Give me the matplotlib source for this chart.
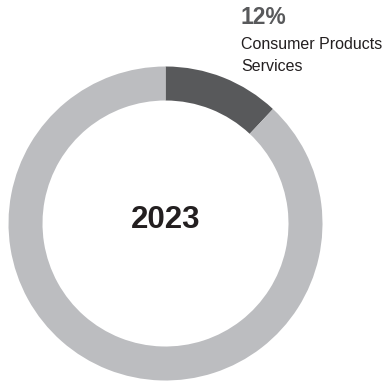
import matplotlib
matplotlib.use('Agg')
import matplotlib.pyplot as plt

# data
segments = ['Consumer Products Services', 'Other']
shares = [12, 88]
seg_colors = ['#58595b', '#bcbdc0']
year_label = '2023'
pct_label = '12%'
name_lines = ['Consumer Products', 'Services']

plt.rcParams['font.family'] = ['Liberation Sans', 'DejaVu Sans']

W, H = 385, 383
fig = plt.figure(figsize=(W / 100, H / 100), dpi=100)
ax = fig.add_axes([0, 0, 1, 1])

# pixel-based coordinates, y pointing up
cx, cy = 165.5, H - 223.5
ax.pie(shares, colors=seg_colors, startangle=90, counterclock=False,
       radius=157, center=(cx, cy),
       wedgeprops=dict(width=34, linewidth=0))
ax.set_xlim(0, W)
ax.set_ylim(0, H)
ax.set_aspect('auto')
ax.axis('off')

ax.text(cx, cy + 3, year_label, ha='center', va='center',
        fontsize=22.5, fontweight='bold', color='#231f20')

ax.text(241, H - 24, pct_label, ha='left', va='baseline',
        fontsize=16.5, fontweight='bold', color='#58595b')
ax.text(241, H - 49, name_lines[0], ha='left', va='baseline',
        fontsize=11.5, color='#231f20')
ax.text(241, H - 71, name_lines[1], ha='left', va='baseline',
        fontsize=11.5, color='#231f20')

fig.savefig('out.png', dpi=100, facecolor='white')
